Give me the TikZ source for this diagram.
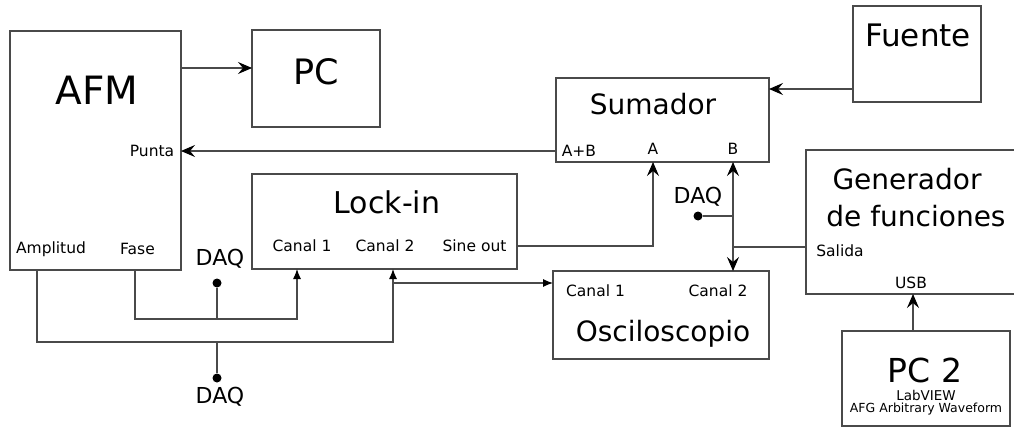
\documentclass[tikz,border=0pt]{standalone}
\usepackage{fontspec}
\setmainfont{DejaVu Sans}
\usetikzlibrary{arrows.meta}
\definecolor{ln}{HTML}{4A4A4A}
\tikzset{
  box/.style={draw=ln, line width=1.3pt, inner sep=0pt, outer sep=0pt},
  lbl/.style={inner sep=0pt, font=\fontsize{15.5}{16}\selectfont},
  big/.style={inner sep=0pt},
  wire/.style={draw=ln, line width=1.1pt},
  stl/.tip={Stealth[length=14pt,width=12pt,inset=5pt,color=black]},
  arr/.style={wire, -stl},
  arrs/.style={wire, -{Latex[length=10pt,width=8pt,color=black]}},
  dot/.style={circle, fill=black, inner sep=0pt, minimum size=9pt},
}
\begin{document}
\begin{tikzpicture}[x=1pt,y=-1pt]
\useasboundingbox (0,0) rectangle (1014,428);
\begin{scope}
\clip (0,0) rectangle (1014,428);
% boxes
\node[box, minimum width=171pt, minimum height=239pt] (afm) at (95.5,150.5) {};
\node[box, minimum width=128pt, minimum height=97pt] (pc) at (316,78.5) {};
\node[box, minimum width=128pt, minimum height=96pt] (fuente) at (917,54) {};
\node[box, minimum width=213pt, minimum height=84pt] (sum) at (662.5,120) {};
\node[box, minimum width=265pt, minimum height=95pt] (lock) at (384.5,221.5) {};
\node[box, minimum width=214pt, minimum height=144pt] (gen) at (913,222) {};
\node[box, minimum width=216pt, minimum height=88pt] (osc) at (661,315) {};
\node[box, minimum width=168pt, minimum height=95pt] (pc2) at (926,378.5) {};
\end{scope}
% titles
\node[big, font=\fontsize{39}{40}\selectfont] (tafm) at (97,90) {AFM};
\node[big, font=\fontsize{35}{36}\selectfont] (tpc) at (316,72) {PC};
\node[big, font=\fontsize{31}{32}\selectfont] (tfu) at (918,35) {Fuente};
\node[big, font=\fontsize{28}{29}\selectfont] (tsum) at (653,104) {Sumador};
\node[big, font=\fontsize{30}{31}\selectfont] (tlock) at (387,202) {Lock-in};
\node[big, font=\fontsize{28}{29}\selectfont] (tgen1) at (907,179) {Generador};
\node[big, font=\fontsize{28}{29}\selectfont] (tgen2) at (916,216) {de funciones};
\node[big, font=\fontsize{28}{29}\selectfont] (tosc) at (663,334) {Osciloscopio};
\node[big, font=\fontsize{33}{34}\selectfont] (tpc2) at (925,370) {PC 2};
\node[big, font=\fontsize{13.5}{14}\selectfont] (tlab) at (926,395) {LabVIEW};
\node[big, font=\fontsize{12.5}{13}\selectfont] (tafg) at (926,409) {AFG Arbitrary Waveform};
% labels
\node[lbl] (punta) at (152,151) {Punta};
\node[lbl] (ampl) at (51,249) {Amplitud};
\node[lbl] (fase) at (137.5,249) {Fase};
\node[lbl] (lc1) at (302,246) {Canal 1};
\node[lbl] (lc2) at (385,246) {Canal 2};
\node[lbl] (sine) at (474.5,246) {Sine out};
\node[lbl] (sab) at (579,151) {A+B};
\node[lbl] (sa) at (653,149) {A};
\node[lbl] (sb) at (733,149) {B};
\node[lbl] (sal) at (840,251) {Salida};
\node[lbl] (usb) at (911,283) {USB};
\node[lbl] (oc1) at (595.5,291) {Canal 1};
\node[lbl] (oc2) at (718,291) {Canal 2};
% DAQ
\node[big, font=\fontsize{22}{23}\selectfont] (daq1) at (220,259) {DAQ};
\node[big, font=\fontsize{22}{23}\selectfont] (daq2) at (220,397) {DAQ};
\node[big, font=\fontsize{22}{23}\selectfont] (daq3) at (698,197) {DAQ};
\node[dot] (d1) at (217,283) {};
\node[dot] (d2) at (217,378) {};
\node[dot] (d3) at (698,216) {};
% coordinates
\coordinate (ypc) at (0,68);
\coordinate (yfu) at (0,89);
\coordinate (xfase) at (135,0);
\coordinate (xampl) at (37,0);
\coordinate (xc1) at (297,0);
\coordinate (xc2) at (393,0);
\coordinate (yfase) at (0,319);
\coordinate (yampl) at (0,342);
\coordinate (yosc) at (0,283);
\coordinate (ysal) at (0,247);
\coordinate (xusb) at (913,0);
% connectors
\draw[arr] (afm.east |- ypc) -- (pc.west |- ypc);
\draw[arr] (fuente.west |- yfu) -- (sum.east |- yfu);
\draw[arr] (sum.west |- punta) -- (afm.east |- punta);
\draw[arr] (lock.east |- sine) -- (sa |- sine) -- (sa |- sum.south);
\draw[wire, stl-stl] (sb |- sum.south) -- (sb |- osc.north);
\draw[wire] (d3) -- (sb |- d3);
\draw[wire] (gen.west |- ysal) -- (sb |- ysal);
\draw[arr] (xusb |- pc2.north) -- (xusb |- gen.south);
\draw[arrs] (xfase |- afm.south) -- (xfase |- yfase) -- (xc1 |- yfase) -- (xc1 |- lock.south);
\draw[wire] (d1) -- (d1 |- yfase);
\draw[arrs] (xampl |- afm.south) -- (xampl |- yampl) -- (xc2 |- yampl) -- (xc2 |- lock.south);
\draw[arrs] (xc2 |- yosc) -- (osc.west |- yosc);
\draw[wire] (d2) -- (d2 |- yampl);
\end{tikzpicture}
\end{document}
